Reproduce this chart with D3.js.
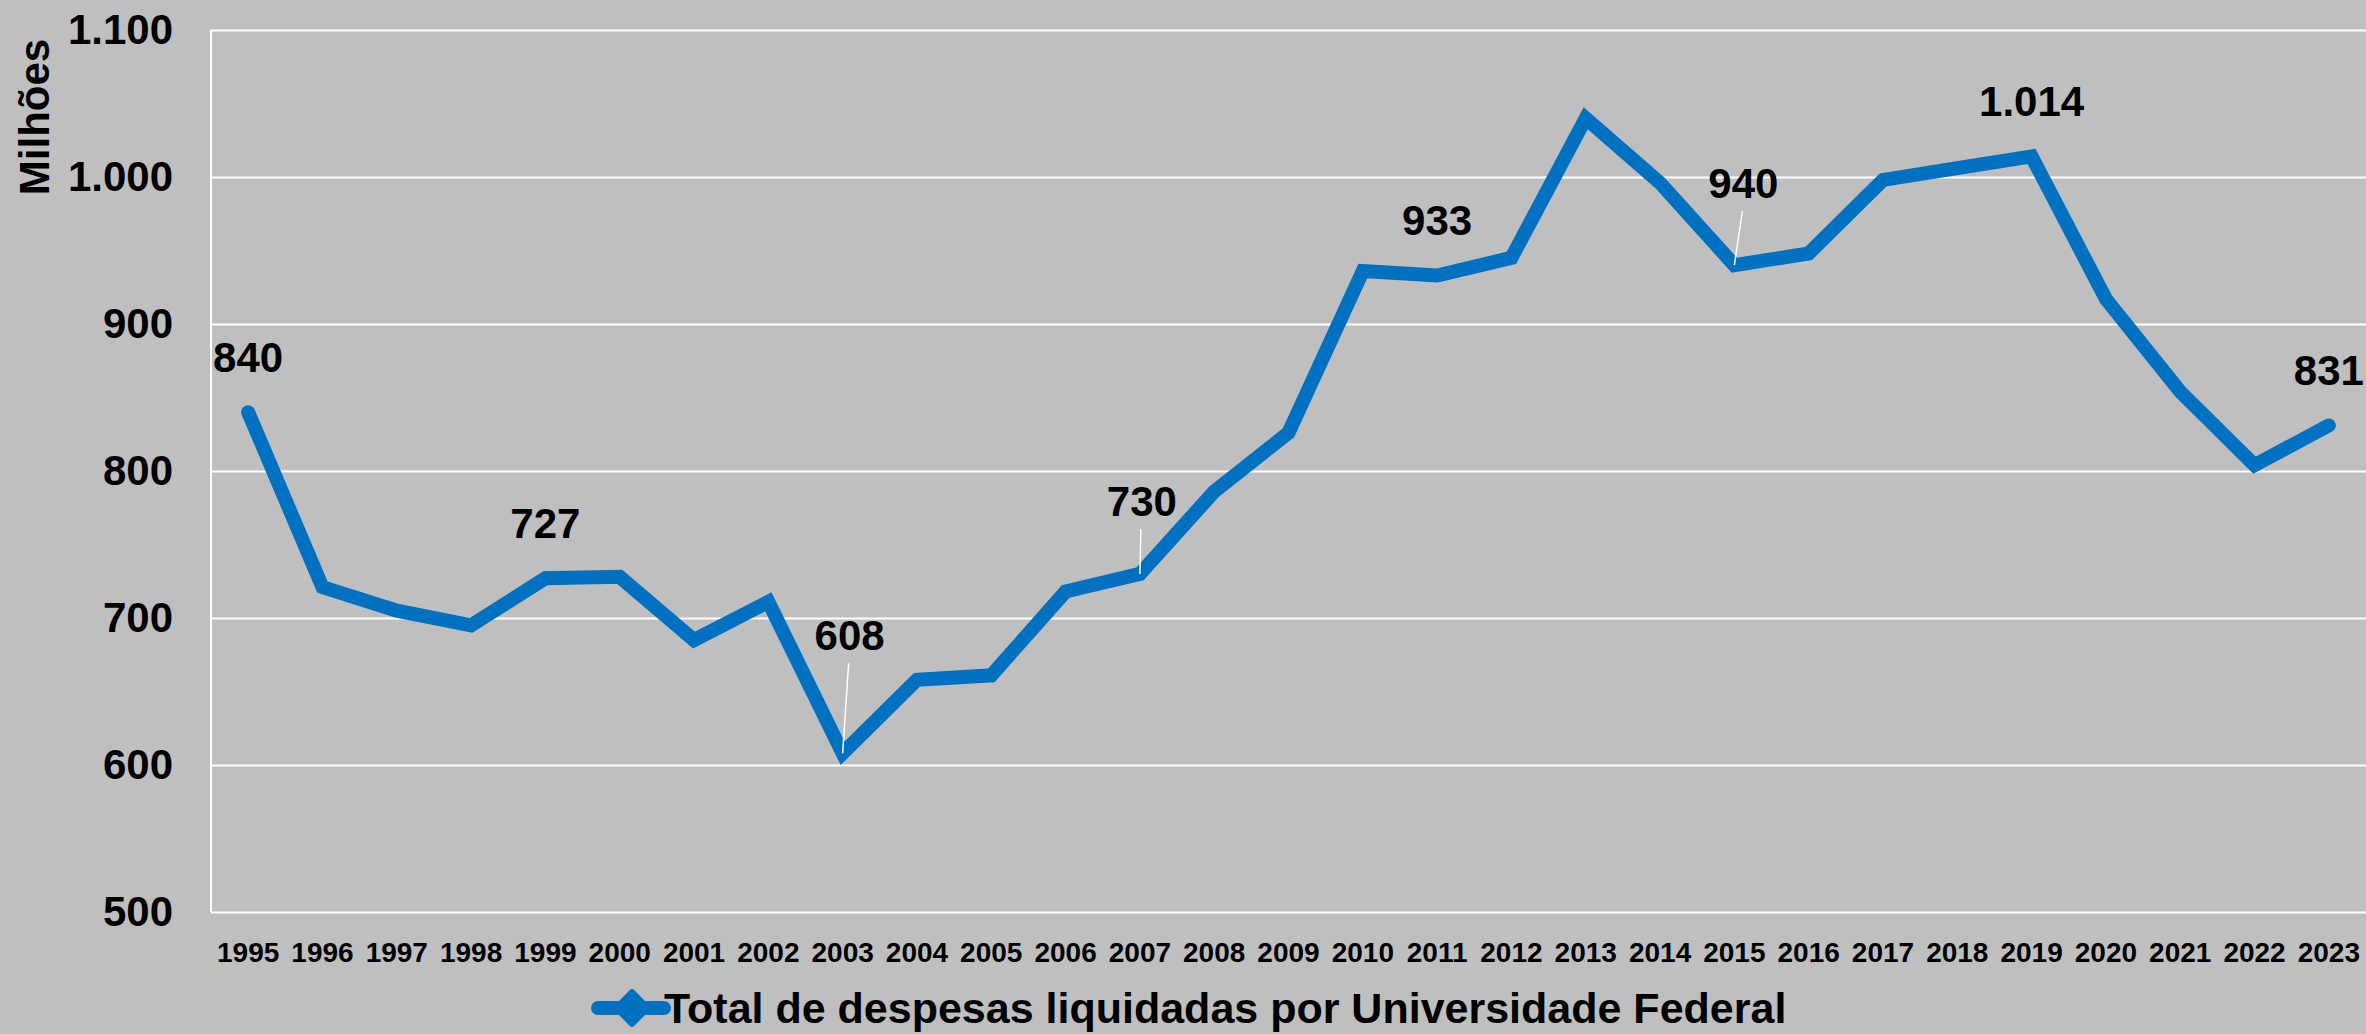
<!DOCTYPE html>
<html>
<head>
<meta charset="utf-8">
<script src="https://cdn.jsdelivr.net/npm/d3@7"></script>
<style>
  html,body{margin:0;padding:0;background:#bfbfbf;}
  svg{display:block;font-family:"Liberation Sans",Arial,sans-serif;font-weight:bold;}
</style>
</head>
<body>
<svg id="chart"></svg>
<script>
'use strict';

/* ── data ───────────────────────────────────────── */
const YEARS = d3.range(1995, 2024).map(String);
const VALUES = [840, 721, 705, 695, 727, 728, 685, 711, 608, 658, 661, 718, 730, 786, 826,
                936, 933, 945, 1040, 996, 940, 948, 998, 1006, 1014, 917, 854, 804, 831];
const Y_TICKS = [500, 600, 700, 800, 900, 1000, 1100];
const LABELED_YEARS = ['1995', '1999', '2003', '2007', '2011', '2015', '2019', '2023'];
const SERIES_NAME = 'Total de despesas liquidadas por Universidade Federal';
const AXIS_TITLE = 'Milhões';

/* ── layout ─────────────────────────────────────── */
const W = 2366, H = 1034;
const M = {left: 211, right: 0, top: 30, bottom: 122};
const BLUE = '#0070c0';

const fmt = v => d3.format(',')(v).replace(/,/g, '.');

const svg = d3.select('#chart').attr('width', W).attr('height', H);
svg.append('rect').attr('width', W).attr('height', H).attr('fill', '#bfbfbf');

const x = d3.scaleBand().domain(YEARS).range([M.left, W - M.right]);
const y = d3.scaleLinear().domain([500, 1100]).range([H - M.bottom, M.top]);

/* grid + y labels */
const yAxis = d3.axisLeft(y).tickValues(Y_TICKS).tickSize(-(W - M.left - M.right)).tickFormat(fmt).tickPadding(38);
const gy = svg.append('g').attr('transform', `translate(${M.left},0)`).call(yAxis);
gy.select('.domain').remove();
gy.selectAll('.tick line').attr('stroke', '#fff').attr('stroke-width', 2);
gy.selectAll('.tick text').attr('fill', '#000').attr('font-size', 42)
  .attr('font-family', '"Liberation Sans",Arial,sans-serif').attr('font-weight', 'bold');

svg.append('line')
  .attr('x1', M.left).attr('x2', M.left)
  .attr('y1', y(1100)).attr('y2', y(500))
  .attr('stroke', '#fff').attr('stroke-width', 2);

/* x labels */
const xAxis = d3.axisBottom(x).tickSize(0).tickPadding(30);
const gx = svg.append('g').attr('transform', `translate(0,${y(500)})`).call(xAxis);
gx.select('.domain').remove();
gx.selectAll('.tick text').attr('fill', '#000').attr('font-size', 28)
  .attr('font-family', '"Liberation Sans",Arial,sans-serif').attr('font-weight', 'bold');

/* axis title */
svg.append('text')
  .attr('transform', `translate(49,117) rotate(-90)`)
  .attr('text-anchor', 'middle')
  .attr('font-size', 42)
  .text(AXIS_TITLE);

/* series line */
const pts = YEARS.map((yr, i) => ({yr, v: VALUES[i], cx: x(yr) + x.bandwidth() / 2, cy: y(VALUES[i])}));
const line = d3.line().x(d => d.cx).y(d => d.cy);

svg.append('path')
  .datum(pts)
  .attr('d', line)
  .attr('fill', 'none')
  .attr('stroke', BLUE)
  .attr('stroke-width', 14)
  .attr('stroke-linejoin', 'miter')
  .attr('stroke-linecap', 'round');

/* data labels: most sit above the point, a few are lifted with a leader line */
const LIFT = {'2003': {dx: 7, dy: -118}, '2007': {dx: 2, dy: -73}, '2015': {dx: 9, dy: -82}};

const lab = pts.filter(d => LABELED_YEARS.includes(d.yr));
lab.forEach(d => {
  const o = LIFT[d.yr] || {dx: 0, dy: -55};
  const tx = d.cx + o.dx, ty = d.cy + o.dy;
  if (LIFT[d.yr]) {
    svg.append('line')
      .attr('x1', tx - 1).attr('y1', ty + 28)
      .attr('x2', d.cx).attr('y2', d.cy)
      .attr('stroke', '#fff').attr('stroke-width', 1.5);
  }
  svg.append('text')
    .attr('x', tx).attr('y', ty + 15)
    .attr('text-anchor', 'middle')
    .attr('font-size', 42)
    .text(fmt(d.v));
});

/* legend */
const lg = svg.append('g').attr('transform', 'translate(598,1008)');
lg.append('line').attr('x1', 0).attr('x2', 66).attr('stroke', BLUE).attr('stroke-width', 14).attr('stroke-linecap', 'round');
lg.append('path')
  .attr('d', d3.symbol(d3.symbolSquare, 500)())
  .attr('transform', 'translate(34,0) rotate(45)')
  .attr('fill', BLUE).attr('stroke', BLUE).attr('stroke-width', 6).attr('stroke-linejoin', 'round');
lg.append('text')
  .attr('x', 66).attr('y', 15)
  .attr('font-size', 43)
  .text(SERIES_NAME);
</script>
</body>
</html>
